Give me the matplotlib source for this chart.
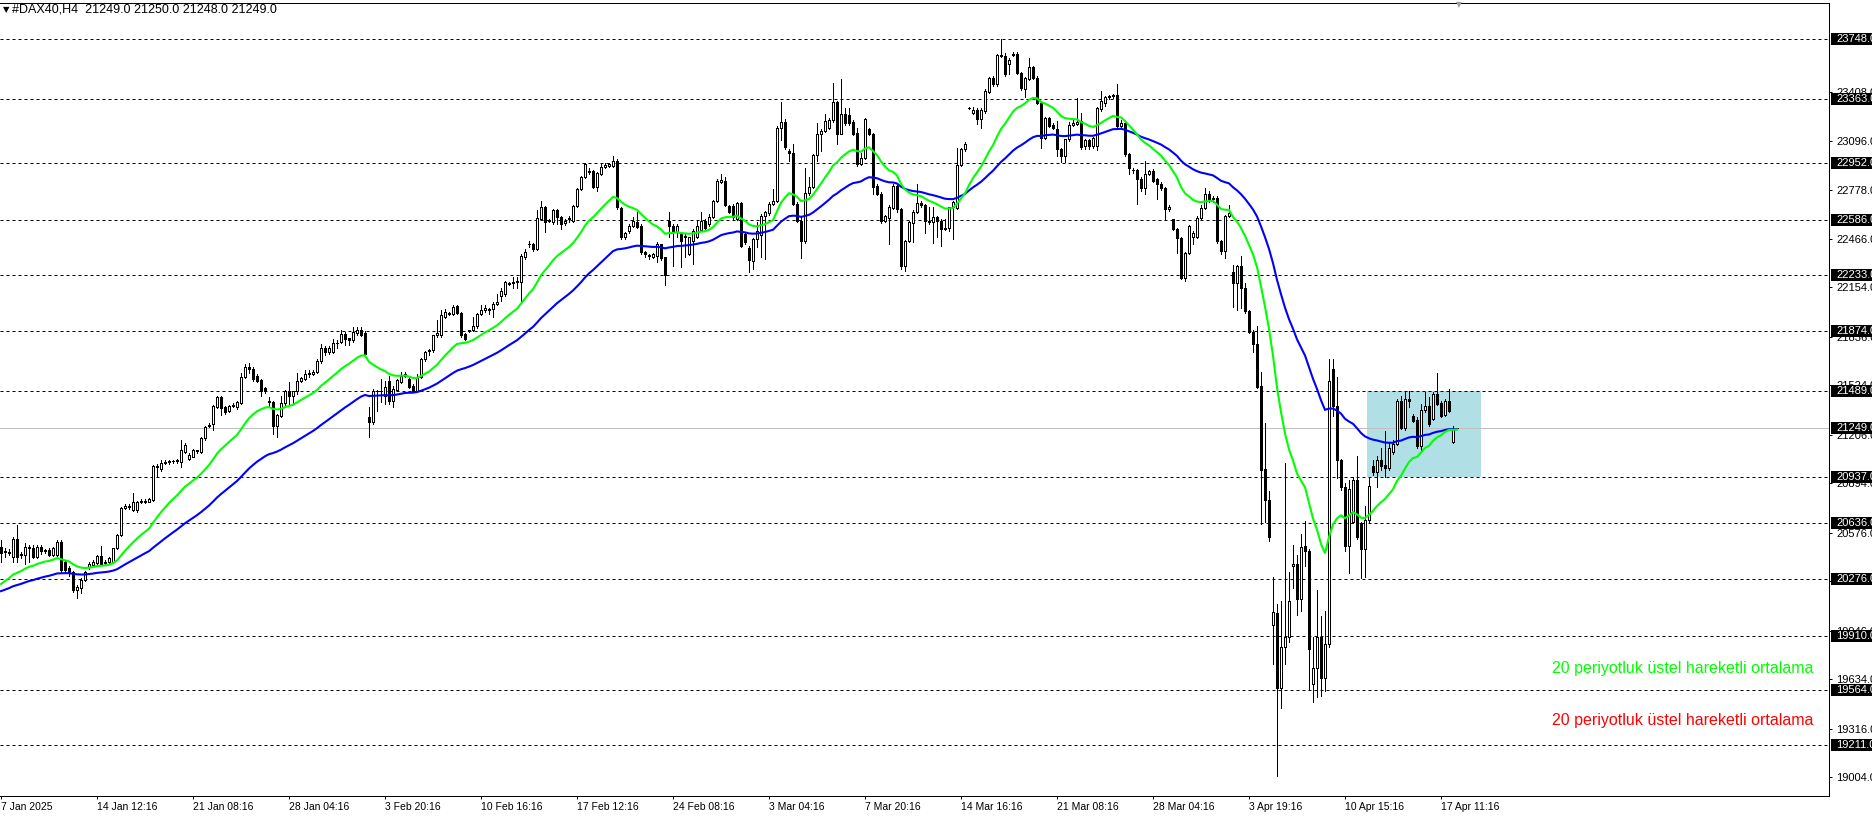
import matplotlib
matplotlib.use("Agg")
import matplotlib.pyplot as plt
import matplotlib.transforms as mtransforms
from matplotlib.patches import Rectangle
import numpy as np
import pandas as pd

plt.rcParams['font.family'] = ['Liberation Sans', 'DejaVu Sans']

# ---------------- data (H4 candles) ----------------
opens = [
 20486, 20460, 20450, 20422, 20533, 20430, 20430, 20486, 20476, 20422,
 20486, 20455, 20465, 20433, 20433, 20514, 20390, 20346, 20325, 20207,
 20218, 20272, 20357, 20368, 20378, 20426, 20380, 20390, 20390, 20475,
 20561, 20733, 20748, 20722, 20722, 20770, 20780, 20775, 20786, 21005,
 20983, 21022, 21028, 21037, 21034, 21033, 21097, 21050, 21065, 21100,
 21097, 21183, 21260, 21275, 21386, 21450, 21382, 21360, 21390, 21386,
 21412, 21580, 21640, 21629, 21586, 21558, 21504, 21420, 21414, 21263,
 21328, 21409, 21489, 21452, 21485, 21553, 21564, 21597, 21597, 21607,
 21678, 21764, 21736, 21736, 21794, 21801, 21855, 21826, 21812, 21860,
 21880, 21860, 21317, 21285, 21489, 21485, 21457, 21549, 21424, 21494,
 21547, 21586, 21564, 21521, 21489, 21575, 21693, 21745, 21750, 21844,
 21844, 21962, 21990, 21984, 22031, 21988, 21855, 21876, 21876, 21902,
 21980, 22010, 22016, 22016, 22044, 22100, 22111, 22178, 22184, 22190,
 22186, 22346, 22430, 22432, 22400, 22592, 22667, 22578, 22571, 22650,
 22603, 22565, 22590, 22582, 22678, 22785, 22860, 22903, 22903, 22800,
 22881, 22928, 22933, 22935, 22967, 22663, 22475, 22513, 22550, 22571,
 22550, 22378, 22361, 22346, 22357, 22432, 22346, 22577, 22550, 22507,
 22496, 22485, 22368, 22453, 22475, 22522, 22582, 22560, 22607, 22710,
 22830, 22839, 22678, 22674, 22592, 22693, 22496, 22406, 22325, 22464,
 22490, 22614, 22629, 22689, 22710, 23181, 23219, 23028, 23016, 22690,
 22582, 22449, 22760, 22796, 23003, 23138, 23160, 23181, 23228, 23346,
 23142, 23266, 23261, 23220, 23149, 22946, 22984, 23175, 23138, 22806,
 22757, 22582, 22600, 22665, 22806, 22657, 22293, 22449, 22567, 22639,
 22699, 22682, 22582, 22571, 22603, 22582, 22530, 22535, 22667, 22665,
 22939, 23042, 23305, 23273, 23294, 23234, 23288, 23412, 23498, 23459,
 23647, 23641, 23588, 23650, 23656, 23534, 23427, 23495, 23570, 23502,
 23342, 23116, 23245, 23200, 23170, 23040, 23000, 23106, 23200, 23205,
 23224, 23063, 23100, 23063, 23060, 23300, 23340, 23375, 23384, 23390,
 23192, 23213, 23013, 22910, 22906, 22848, 22795, 22881, 22902, 22848,
 22820, 22795, 22655, 22592, 22527, 22473, 22216, 22377, 22480, 22480,
 22602, 22666, 22752, 22720, 22730, 22452, 22390, 22613, 22250, 22180,
 22290, 22151, 22003, 21869, 21786, 21516, 20984, 20785, 19983, 20060,
 19575, 19842, 19907, 20360, 20377, 20150, 20487, 20460, 19603, 19705,
 19907, 19640, 19863, 21626, 21392, 21040, 20872, 20492, 20645, 20917,
 20635, 20474, 20656, 21002, 20966, 21040, 21008, 20993, 21094, 21147,
 21425, 21250, 21436, 21329, 21301, 21130, 21365, 21393, 21307, 21468,
 21408, 21335, 21425, 21158, 21249]

highs = [
 20529, 20480, 20470, 20550, 20625, 20450, 20508, 20497, 20497, 20495,
 20497, 20470, 20475, 20485, 20529, 20529, 20400, 20360, 20330, 20240,
 20283, 20330, 20390, 20400, 20435, 20490, 20400, 20420, 20480, 20570,
 20743, 20760, 20760, 20829, 20780, 20790, 20790, 20800, 21010, 21015,
 21040, 21045, 21045, 21045, 21050, 21172, 21150, 21090, 21115, 21110,
 21190, 21260, 21280, 21395, 21455, 21455, 21390, 21395, 21410, 21425,
 21600, 21660, 21665, 21640, 21597, 21564, 21510, 21446, 21424, 21340,
 21457, 21495, 21542, 21489, 21600, 21580, 21620, 21620, 21620, 21690,
 21786, 21775, 21775, 21822, 21812, 21876, 21865, 21830, 21898, 21898,
 21898, 21870, 21381, 21500, 21495, 21564, 21553, 21586, 21521, 21564,
 21607, 21607, 21575, 21532, 21597, 21700, 21745, 21760, 21850, 21941,
 22010, 22015, 21995, 22038, 22038, 21995, 21860, 21880, 21962, 21990,
 22038, 22038, 22020, 22060, 22113, 22150, 22197, 22190, 22218, 22218,
 22370, 22400, 22453, 22440, 22650, 22710, 22675, 22590, 22660, 22657,
 22610, 22590, 22610, 22685, 22790, 22870, 22955, 22924, 22910, 22895,
 22946, 22950, 22955, 22999, 22978, 22670, 22510, 22560, 22603, 22635,
 22560, 22389, 22370, 22375, 22443, 22435, 22350, 22635, 22560, 22560,
 22500, 22496, 22480, 22528, 22582, 22635, 22590, 22625, 22715, 22850,
 22881, 22860, 22685, 22689, 22700, 22700, 22500, 22420, 22470, 22571,
 22625, 22646, 22700, 22785, 23190, 23346, 23234, 23040, 23074, 22700,
 22603, 22924, 22860, 23010, 23213, 23170, 23266, 23240, 23470, 23355,
 23495, 23309, 23309, 23230, 23181, 23020, 23245, 23181, 23145, 22815,
 22765, 22620, 22680, 22815, 22815, 22665, 22455, 22580, 22650, 22820,
 22710, 22690, 22670, 22667, 22610, 22590, 22592, 22670, 22710, 23052,
 23050, 23085, 23316, 23316, 23309, 23309, 23427, 23506, 23513, 23652,
 23748, 23662, 23630, 23670, 23665, 23540, 23505, 23630, 23575, 23510,
 23352, 23250, 23250, 23210, 23224, 23050, 23110, 23215, 23234, 23374,
 23277, 23110, 23110, 23120, 23315, 23417, 23384, 23390, 23400, 23459,
 23230, 23220, 23020, 22923, 22915, 22860, 22966, 22910, 22915, 22855,
 22830, 22800, 22680, 22595, 22535, 22480, 22380, 22555, 22515, 22610,
 22680, 22795, 22773, 22740, 22740, 22460, 22620, 22680, 22300, 22300,
 22355, 22183, 22010, 21880, 21908, 21609, 21283, 20845, 20290, 20117,
 20134, 21023, 20323, 20497, 20431, 20568, 20650, 20470, 19907, 20210,
 20043, 20069, 21695, 21695, 21576, 21050, 20893, 20915, 20934, 21072,
 20645, 20750, 20934, 21040, 21068, 21122, 21228, 21158, 21169, 21436,
 21457, 21478, 21489, 21340, 21318, 21404, 21478, 21446, 21478, 21600,
 21420, 21436, 21500, 21265, 21250]

lows = [
 20390, 20420, 20430, 20390, 20390, 20410, 20372, 20390, 20410, 20415,
 20440, 20445, 20425, 20425, 20425, 20325, 20320, 20300, 20197, 20154,
 20186, 20265, 20340, 20360, 20360, 20365, 20370, 20380, 20385, 20470,
 20555, 20725, 20730, 20715, 20710, 20765, 20765, 20770, 20780, 20936,
 20975, 21015, 21020, 21025, 21025, 21000, 21090, 21040, 21060, 21090,
 21090, 21175, 21255, 21236, 21380, 21330, 21340, 21355, 21385, 21370,
 21405, 21570, 21600, 21553, 21545, 21457, 21475, 21381, 21209, 21188,
 21317, 21400, 21403, 21403, 21470, 21545, 21560, 21580, 21590, 21600,
 21670, 21720, 21725, 21730, 21765, 21795, 21780, 21780, 21805, 21850,
 21840, 21720, 21194, 21275, 21360, 21414, 21403, 21403, 21385, 21489,
 21540, 21575, 21508, 21478, 21485, 21570, 21683, 21719, 21740, 21835,
 21835, 21955, 21973, 21975, 21980, 21833, 21815, 21865, 21870, 21895,
 21975, 21995, 21984, 21962, 22040, 22068, 22100, 22170, 22150, 22150,
 22068, 22336, 22415, 22390, 22395, 22585, 22507, 22571, 22560, 22560,
 22528, 22555, 22571, 22575, 22670, 22780, 22855, 22880, 22790, 22770,
 22875, 22920, 22925, 22930, 22657, 22465, 22465, 22505, 22540, 22535,
 22370, 22346, 22336, 22340, 22315, 22330, 22169, 22475, 22293, 22475,
 22282, 22346, 22360, 22304, 22470, 22515, 22525, 22550, 22600, 22705,
 22825, 22678, 22630, 22592, 22585, 22410, 22430, 22250, 22271, 22411,
 22346, 22336, 22620, 22680, 22700, 23100, 23040, 22967, 22680, 22571,
 22340, 22440, 22750, 22790, 22967, 23031, 23150, 23175, 23220, 23074,
 23138, 23200, 23200, 23130, 22935, 22940, 22980, 23130, 22753, 22745,
 22570, 22575, 22432, 22660, 22635, 22271, 22261, 22445, 22444, 22630,
 22670, 22500, 22560, 22436, 22475, 22420, 22520, 22518, 22464, 22660,
 22935, 23030, 23300, 23266, 23202, 23181, 23277, 23405, 23448, 23448,
 23635, 23515, 23523, 23640, 23523, 23420, 23380, 23490, 23495, 23335,
 23052, 23110, 23185, 23170, 23000, 22960, 22960, 23095, 23190, 23195,
 23041, 23041, 23040, 23050, 23035, 23290, 23320, 23365, 23370, 23185,
 23180, 23000, 22880, 22890, 22688, 22773, 22752, 22875, 22830, 22720,
 22780, 22585, 22645, 22520, 22377, 22205, 22195, 22370, 22430, 22470,
 22595, 22660, 22700, 22705, 22440, 22366, 22345, 22605, 22030, 22010,
 22020, 21990, 21858, 21740, 21505, 20630, 20644, 20525, 19733, 19010,
 19451, 19733, 19874, 20221, 20048, 20069, 20362, 19571, 19484, 19516,
 19527, 19560, 19842, 21327, 20926, 20850, 20460, 20314, 20635, 20538,
 20282, 20293, 20645, 20944, 20870, 20976, 20934, 20976, 21083, 21137,
 21243, 21233, 21382, 21290, 21122, 21109, 21355, 21265, 21300, 21395,
 21320, 21325, 21350, 21150, 21248]

closes = [
 20443, 20450, 20446, 20533, 20422, 20437, 20486, 20476, 20422, 20486,
 20455, 20465, 20433, 20475, 20514, 20336, 20336, 20315, 20207, 20229,
 20272, 20325, 20372, 20390, 20426, 20375, 20390, 20411, 20475, 20561,
 20733, 20748, 20740, 20775, 20770, 20780, 20775, 20790, 21005, 20998,
 21022, 21028, 21037, 21034, 21043, 21107, 21140, 21075, 21107, 21105,
 21183, 21253, 21270, 21390, 21446, 21375, 21354, 21390, 21400, 21416,
 21580, 21640, 21630, 21564, 21553, 21489, 21485, 21414, 21263, 21332,
 21409, 21489, 21452, 21485, 21553, 21569, 21597, 21600, 21612, 21683,
 21764, 21736, 21764, 21794, 21797, 21855, 21822, 21812, 21865, 21880,
 21850, 21726, 21285, 21489, 21485, 21489, 21510, 21424, 21500, 21558,
 21586, 21597, 21515, 21489, 21575, 21693, 21736, 21750, 21844, 21859,
 21973, 21994, 21984, 22027, 21988, 21844, 21822, 21874, 21908, 21984,
 22005, 22022, 22010, 22044, 22059, 22128, 22186, 22184, 22190, 22197,
 22357, 22383, 22435, 22400, 22597, 22667, 22571, 22584, 22652, 22603,
 22560, 22582, 22600, 22678, 22785, 22860, 22946, 22895, 22800, 22888,
 22928, 22940, 22946, 22967, 22667, 22475, 22500, 22550, 22577, 22543,
 22378, 22368, 22352, 22368, 22432, 22342, 22233, 22550, 22507, 22550,
 22453, 22480, 22475, 22518, 22550, 22582, 22535, 22607, 22710, 22839,
 22843, 22684, 22640, 22603, 22693, 22421, 22443, 22329, 22464, 22518,
 22614, 22635, 22689, 22710, 23181, 23219, 23053, 23020, 22690, 22582,
 22449, 22760, 22796, 23003, 23138, 23160, 23224, 23230, 23346, 23142,
 23266, 23213, 23213, 23142, 22946, 22984, 23239, 23138, 22800, 22757,
 22577, 22614, 22672, 22806, 22657, 22293, 22449, 22571, 22639, 22699,
 22682, 22582, 22571, 22603, 22577, 22528, 22535, 22667, 22704, 22939,
 23042, 23074, 23309, 23294, 23234, 23294, 23416, 23498, 23459, 23647,
 23639, 23523, 23613, 23656, 23534, 23434, 23498, 23570, 23502, 23342,
 23116, 23245, 23192, 23181, 23042, 22997, 23106, 23200, 23213, 23220,
 23056, 23100, 23063, 23116, 23305, 23350, 23378, 23384, 23390, 23192,
 23213, 23013, 22920, 22905, 22848, 22795, 22881, 22902, 22838, 22820,
 22795, 22655, 22670, 22527, 22473, 22216, 22377, 22548, 22505, 22602,
 22666, 22752, 22720, 22730, 22452, 22390, 22613, 22634, 22180, 22290,
 22151, 22003, 21869, 21786, 21511, 20980, 20785, 20546, 20063, 19575,
 19842, 19907, 20139, 20373, 20150, 20481, 20460, 19826, 19705, 19907,
 19640, 19863, 21554, 21388, 21040, 20867, 20492, 20859, 20917, 20549,
 20468, 20656, 20878, 20966, 21040, 21002, 20993, 21122, 21147, 21425,
 21250, 21436, 21425, 21297, 21130, 21365, 21393, 21275, 21468, 21404,
 21329, 21425, 21361, 21249, 21249]

# moving averages (exponential) and their values just before the first bar
ema_fast_period = 20
ema_slow_period = 50
ema_fast_seed = 20225
ema_slow_seed = 20190

# horizontal levels drawn on the chart
levels = [23748, 23363, 22952, 22586, 22233, 21874, 21489,
          20937, 20636, 20276, 19910, 19564, 19211]
current_price = 21249.0

# price-axis ticks
price_ticks = [23408, 23096, 22778, 22466, 22154, 21836, 21524, 21206,
               20894, 20576, 20264, 19946, 19634, 19316, 19004]

# time-axis ticks (bar index) and labels
time_tick_bars = [0, 24, 48, 72, 96, 120, 144, 168, 192, 216, 240, 264,
                  288, 312, 336, 360]
time_tick_labels = ['7 Jan 2025', '14 Jan 12:16', '21 Jan 08:16',
                    '28 Jan 04:16', '3 Feb 20:16', '10 Feb 16:16',
                    '17 Feb 12:16', '24 Feb 08:16', '3 Mar 04:16',
                    '7 Mar 20:16', '14 Mar 16:16', '21 Mar 08:16',
                    '28 Mar 04:16', '3 Apr 19:16', '10 Apr 15:16',
                    '17 Apr 11:16']

# rectangle object
rect_bar_start, rect_bar_end = 341.6, 369.9
rect_low, rect_high = 20937, 21489

header_symbol = '#DAX40,H4'
header_ohlc = ['21249.0', '21250.0', '21248.0', '21249.0']
note_text = '20 periyotluk üstel hareketli ortalama'

# ---------------- figure ----------------
W, H = 1872, 817
fig = plt.figure(figsize=(W / 100, H / 100), dpi=100)
fig.patch.set_facecolor('white')

ax_l, ax_r, ax_t, ax_b = 0, 1829, 3, 796
ax = fig.add_axes([ax_l / W, (H - ax_b) / H, (ax_r - ax_l) / W, (ax_b - ax_t) / H])
ax.set_facecolor('white')

n = min(len(opens), len(highs), len(lows), len(closes))
o = np.array(opens[:n], float)
h = np.array(highs[:n], float)
l = np.array(lows[:n], float)
c = np.array(closes[:n], float)
x = np.arange(n)

# bar i sits at pixel 1 + 4 i
ax.set_xlim((ax_l - 1) / 4.0, (ax_r - 1) / 4.0)
# price scale: 0.1555 px per point, 23748 at pixel row 39.4
ppp = 0.1555
ax.set_ylim(23748 - (ax_b - 39.4) / ppp, 23748 + (39.4 - ax_t) / ppp)

lw1 = 72.0 / 100.0  # one pixel

# rectangle
ax.add_patch(Rectangle((rect_bar_start, rect_low), rect_bar_end - rect_bar_start,
                       rect_high - rect_low, facecolor='#B0E0E6', edgecolor='none',
                       zorder=1))

# level lines
for lv in levels:
    ax.axhline(lv, color='black', lw=lw1, linestyle=(0, (3, 3)), zorder=2)
ax.axhline(current_price, color='#c0c0c0', lw=lw1, zorder=1.5)

# candles
ax.vlines(x, l, h, color='black', lw=lw1, zorder=3, antialiased=False)
bull = c >= o
bottoms = np.minimum(o, c)
heights = np.abs(c - o)
ax.bar(x[bull], heights[bull], bottom=bottoms[bull], width=0.5,
       facecolor='white', edgecolor='black', linewidth=lw1, zorder=4,
       antialiased=False)
ax.bar(x[~bull], heights[~bull], bottom=bottoms[~bull], width=0.5,
       facecolor='black', edgecolor='black', linewidth=lw1, zorder=4,
       antialiased=False)

# EMAs
ema_fast = pd.Series([ema_fast_seed] + list(c)).ewm(span=ema_fast_period, adjust=False).mean().values[1:]
ema_slow = pd.Series([ema_slow_seed] + list(c)).ewm(span=ema_slow_period, adjust=False).mean().values[1:]
ax.plot(x, ema_slow, color='#0000ff', lw=1.5, zorder=5, solid_joinstyle='miter')
ax.plot(x, ema_fast, color='#00ff00', lw=1.5, zorder=6, solid_joinstyle='miter')

# spines
ax.spines['left'].set_visible(False)
for s in ['top', 'right', 'bottom']:
    ax.spines[s].set_color('black')
    ax.spines[s].set_linewidth(lw1)

# price axis
ax.yaxis.tick_right()
ax.set_yticks(price_ticks)
ax.set_yticklabels(['%.1f' % t for t in price_ticks])
ax.tick_params(axis='y', direction='out', length=3 * lw1, width=lw1, pad=4 * lw1,
               labelsize=8, colors='black')

# time axis
ax.set_xticks(time_tick_bars)
ax.set_xticklabels(time_tick_labels, ha='left')
ax.tick_params(axis='x', direction='out', length=3 * lw1, width=lw1, pad=2.5 * lw1,
               labelsize=7.5, colors='black')

# level labels on the price axis
bt = mtransforms.blended_transform_factory(ax.transAxes, ax.transData)
axw = float(ax_r - ax_l)
box_h = 12 / ppp
for lv in levels + [current_price]:
    ax.add_patch(Rectangle((1 + 2 / axw, lv - box_h / 2), 60 / axw, box_h,
                           transform=bt, facecolor='black', edgecolor='none',
                           clip_on=False, zorder=10))
    ax.text(1 + 7 / axw, lv, '%.1f' % lv, transform=bt, color='white',
            fontsize=8, va='center', ha='left', clip_on=False, zorder=11)

# header
fig.text(3 / W, 1 - 10 / H, '\u25BC', fontsize=6, color='black',
         va='center', ha='left', family=['DejaVu Sans'])
fig.text(12 / W, 1 - 10 / H, header_symbol + '  ' + ' '.join(header_ohlc),
         fontsize=9, color='black', va='center', ha='left')
fig.text(1459 / W, 1 - 5 / H, '\u25BC', fontsize=5.5, color='#a0a0a0',
         va='center', ha='center', family=['DejaVu Sans'])

# annotations
fig.text(1552 / W, 1 - 668 / H, note_text, color='#00ff00', fontsize=11.5,
         va='center', ha='left')
fig.text(1552 / W, 1 - 721 / H, note_text, color='#ff0000', fontsize=11.5,
         va='center', ha='left')

fig.savefig('out.png', dpi=100, facecolor='white')
